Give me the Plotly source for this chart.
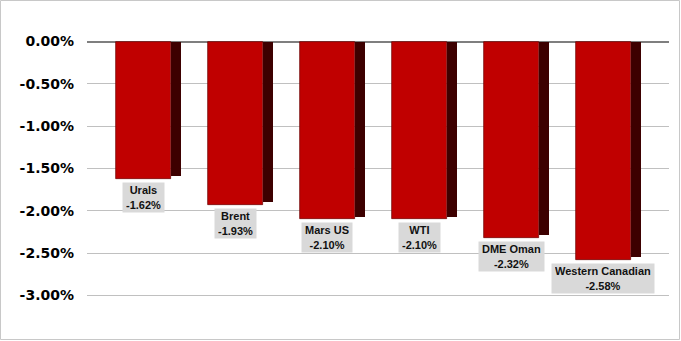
import plotly.graph_objects as go

categories = ["Urals", "Brent", "Mars US", "WTI", "DME Oman", "Western Canadian"]
values = [-1.62, -1.93, -2.10, -2.10, -2.32, -2.58]
tick_vals = [0, -0.5, -1.0, -1.5, -2.0, -2.5, -3.0]
tick_text = ["0.00%", "-0.50%", "-1.00%", "-1.50%", "-2.00%", "-2.50%", "-3.00%"]

W, H = 681, 341
ml, mr, mt, mb = 87, 12, 20, 21

fig = go.Figure()
# side face (depth)
fig.add_trace(go.Bar(
    x=categories, y=[v + 0.03 for v in values],
    width=0.109, offset=0.299,
    marker=dict(color="#3d0000", line=dict(width=0)),
    hoverinfo="skip", showlegend=False,
))
# front face
fig.add_trace(go.Bar(
    x=categories, y=values,
    width=0.598, offset=-0.299,
    marker=dict(color="#C00000", line=dict(width=0.7, color="#6a0000")),
    showlegend=False,
))

for c, v in zip(categories, values):
    fig.add_annotation(
        x=c, y=v, xref="x", yref="y",
        text=f"<b>{c}</b><br><b>{v:.2f}%</b>",
        showarrow=False, yanchor="top", xanchor="center", yshift=-3,
        font=dict(family="Liberation Sans, Arial", size=11, color="#111111"),
        bgcolor="#d9d9d9", borderpad=3, height=23,
    )

# chart border
pw = W - ml - mr
ph = H - mt - mb
fig.add_shape(
    type="rect", xref="paper", yref="paper",
    x0=(0.5 - ml) / pw, x1=(W - 1.5 - ml) / pw,
    y0=-(mb - 1.5) / ph, y1=1 + (mt - 0.5) / ph,
    line=dict(color="#c8c8c8", width=1), fillcolor="rgba(0,0,0,0)", layer="below",
)

fig.update_layout(
    width=W, height=H,
    margin=dict(l=ml, r=mr, t=mt, b=mb),
    paper_bgcolor="white", plot_bgcolor="white",
    barmode="overlay", bargap=0,
    xaxis=dict(type="category", range=[-0.609, 5.717], showticklabels=False,
               showgrid=False, zeroline=False, showline=False, ticks=""),
    yaxis=dict(range=[-3.289, 0.254], tickvals=tick_vals, ticktext=tick_text,
               showgrid=True, gridcolor="#c0c0c0", gridwidth=1,
               zeroline=True, zerolinecolor="#7f7f7f", zerolinewidth=2,
               showline=False, ticks="", ticklabelstandoff=12,
               tickfont=dict(family="DejaVu Sans", size=14, color="black", weight="bold")),
)

fig.write_html("out.html")
